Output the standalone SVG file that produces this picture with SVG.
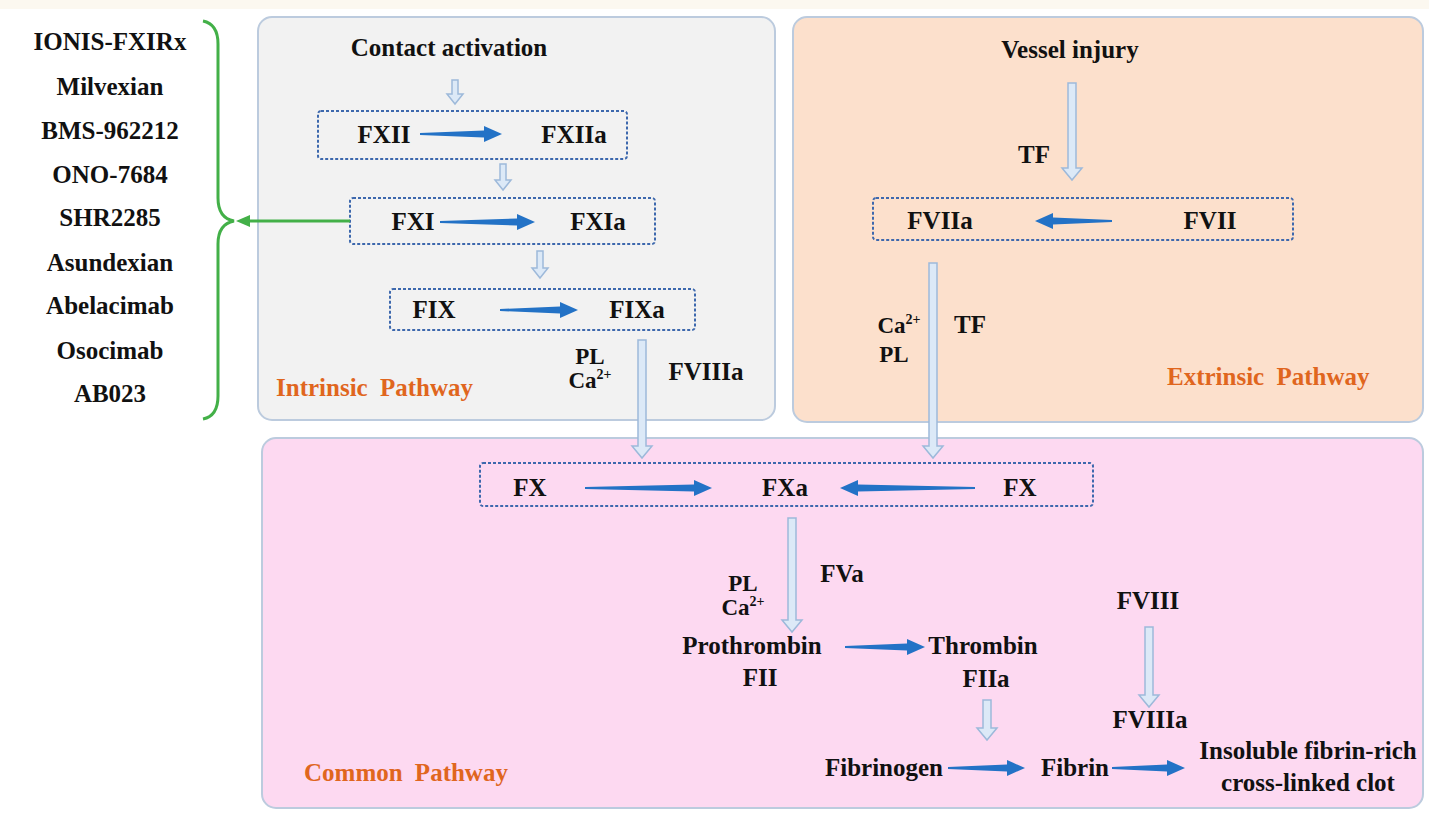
<svg xmlns="http://www.w3.org/2000/svg" width="1429" height="813" viewBox="0 0 1429 813">
<defs>
<style>
.t{font-family:"Liberation Serif","Times New Roman",serif;font-weight:bold;font-size:25px;fill:#111;text-anchor:middle}
.s{font-size:23px}
.lbl{font-family:"Liberation Serif","Times New Roman",serif;font-weight:bold;font-size:25px;fill:#e0661e;word-spacing:6px}
.box{fill:none;stroke:#3d68ad;stroke-width:2;stroke-dasharray:3 2}
.blue{fill:#2372c6}
.hollow{fill:#dce9f7;stroke:#9db9da;stroke-width:1.5}
.panel{stroke:#bccbde;stroke-width:2}
.sup{font-size:14px}
</style>
</defs>
<rect x="0" y="0" width="1429" height="813" fill="#ffffff"/>
<rect x="0" y="0" width="1429" height="9" fill="#fcf8f0"/>

<g id="intrinsic-panel">
<rect class="panel" x="258" y="17" width="517" height="403" rx="14" fill="#f2f2f2"/>
<text class="lbl" x="276" y="396">Intrinsic Pathway</text>
</g>
<g id="extrinsic-panel">
<rect class="panel" x="793" y="17" width="630" height="405" rx="14" fill="#fce0cc"/>
<text class="lbl" x="1167" y="385">Extrinsic Pathway</text>
</g>
<g id="common-panel">
<rect class="panel" x="262" y="438" width="1161" height="370" rx="14" fill="#fdd9f1"/>
<text class="lbl" x="304" y="781">Common Pathway</text>
</g>

<g id="inhibitors">
<text class="t" x="110" y="50">IONIS-FXIRx</text>
<text class="t" x="110" y="95">Milvexian</text>
<text class="t" x="110" y="139">BMS-962212</text>
<text class="t" x="110" y="183">ONO-7684</text>
<text class="t" x="110" y="226">SHR2285</text>
<text class="t" x="110" y="271">Asundexian</text>
<text class="t" x="110" y="314">Abelacimab</text>
<text class="t" x="110" y="359">Osocimab</text>
<text class="t" x="110" y="402">AB023</text>
</g>

<g id="contact">
<text class="t" x="449" y="56">Contact activation</text>
</g>
<g id="fxii">
<rect class="box" x="318" y="111" width="309" height="48" rx="3"/>
<text class="t" x="384" y="143">FXII</text>
<text class="t" x="574" y="143">FXIIa</text>
</g>
<g id="fxi">
<rect class="box" x="350" y="198" width="305" height="46" rx="3"/>
<text class="t" x="413" y="230">FXI</text>
<text class="t" x="598" y="230">FXIa</text>
</g>
<g id="fix">
<rect class="box" x="390" y="289" width="305" height="41" rx="3"/>
<text class="t" x="434" y="318">FIX</text>
<text class="t" x="637" y="318">FIXa</text>
</g>
<g id="intrinsic-cofactors">
<text class="t s" x="590" y="364">PL</text>
<text class="t s" x="590" y="388">Ca<tspan class="sup" dy="-9">2+</tspan></text>
<text class="t" x="706" y="380">FVIIIa</text>
</g>

<g id="vessel">
<text class="t" x="1070" y="58">Vessel injury</text>
<text class="t" x="1034" y="163">TF</text>
</g>
<g id="fvii">
<rect class="box" x="873" y="198" width="420" height="42" rx="3"/>
<text class="t" x="940" y="229">FVIIa</text>
<text class="t" x="1210" y="229">FVII</text>
</g>
<g id="extrinsic-cofactors">
<text class="t s" x="899" y="333">Ca<tspan class="sup" dy="-9">2+</tspan></text>
<text class="t s" x="894" y="362">PL</text>
<text class="t" x="970" y="333">TF</text>
</g>

<g id="fx">
<rect class="box" x="480" y="463" width="613" height="43" rx="3"/>
<text class="t" x="530" y="496">FX</text>
<text class="t" x="785" y="496">FXa</text>
<text class="t" x="1020" y="496">FX</text>
</g>
<g id="common-cofactors">
<text class="t s" x="743" y="591">PL</text>
<text class="t s" x="743" y="615">Ca<tspan class="sup" dy="-9">2+</tspan></text>
<text class="t" x="842" y="582">FVa</text>
</g>
<g id="prothrombin">
<text class="t" x="752" y="654">Prothrombin</text>
<text class="t" x="760" y="686">FII</text>
</g>
<g id="thrombin">
<text class="t" x="983" y="654">Thrombin</text>
<text class="t" x="986" y="687">FIIa</text>
</g>
<g id="fviii">
<text class="t" x="1148" y="609">FVIII</text>
<text class="t" x="1150" y="728">FVIIIa</text>
</g>
<g id="fibrinogen">
<text class="t" x="884" y="776">Fibrinogen</text>
</g>
<g id="fibrin">
<text class="t" x="1075" y="776">Fibrin</text>
</g>
<g id="clot">
<text class="t" x="1308" y="759">Insoluble fibrin-rich</text>
<text class="t" x="1308" y="791">cross-linked clot</text>
</g>

<g id="connectors">
<!-- brace -->
<path d="M203,21 Q218,24 218,44 L218,198 Q218,218 234,221 Q218,224 218,244 L218,396 Q218,416 203,419" fill="none" stroke="#43b048" stroke-width="3"/>
<line x1="350" y1="221" x2="244" y2="221" stroke="#43b048" stroke-width="3"/>
<polygon points="236,221 250,215 250,227" fill="#43b048"/>
<!-- blue arrows right -->
<polygon class="blue" points="420,133 484,130.5 484,126 502,134 484,142 484,137.5 420,135"/>
<polygon class="blue" points="440,221 517,218.5 517,214 535,222 517,230 517,225.5 440,223"/>
<polygon class="blue" points="500,309 560,306.5 560,302 578,310 560,318 560,313.5 500,311"/>
<polygon class="blue" points="585,487 694,484.5 694,480 712,488 694,496 694,491.5 585,489"/>
<polygon class="blue" points="845,646 907,643.5 907,639 925,647 907,655 907,650.5 845,648"/>
<polygon class="blue" points="948,767 1007,764.5 1007,760 1025,768 1007,776 1007,771.5 948,769"/>
<polygon class="blue" points="1112,767 1167,764.5 1167,760 1185,768 1167,776 1167,771.5 1112,769"/>
<!-- blue arrows left -->
<polygon class="blue" points="1112,220 1053,217.5 1053,213 1035,221 1053,229 1053,224.5 1112,222"/>
<polygon class="blue" points="975,487 858,484.5 858,480 840,488 858,496 858,491.5 975,489"/>
<!-- hollow arrows -->
<polygon class="hollow" points="452,80 458,80 458,94 463,94 455,104 447,94 452,94"/>
<polygon class="hollow" points="500,164 506,164 506,180 511,180 503,190 495,180 500,180"/>
<polygon class="hollow" points="537,251 543,251 543,268 548,268 540,278 532,268 537,268"/>
<polygon class="hollow" points="638,340 646,340 646,446 652,446 642,458 632,446 638,446"/>
<polygon class="hollow" points="1068,83 1076,83 1076,168 1082,168 1072,180 1062,168 1068,168"/>
<polygon class="hollow" points="929,263 937,263 937,446 943,446 933,458 923,446 929,446"/>
<polygon class="hollow" points="788,518 796,518 796,620 802,620 792,632 782,620 788,620"/>
<polygon class="hollow" points="983,700 991,700 991,728 997,728 987,740 977,728 983,728"/>
<polygon class="hollow" points="1145,627 1153,627 1153,695 1159,695 1149,707 1139,695 1145,695"/>
</g>
</svg>
